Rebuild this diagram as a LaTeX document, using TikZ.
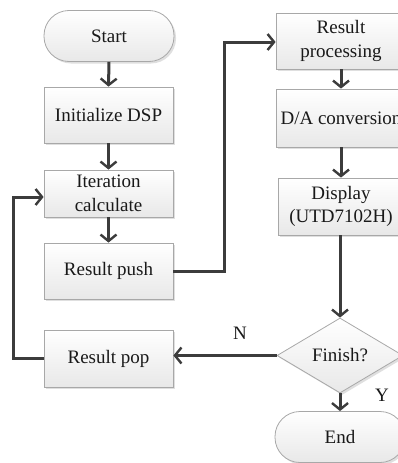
\documentclass[tikz,border=0pt]{standalone}
\usepackage{fontspec}
\setmainfont{Liberation Serif}
\usetikzlibrary{arrows.meta,shapes.geometric,shadows}
\definecolor{flowline}{HTML}{3C3C3C}
\definecolor{boxedge}{HTML}{A8A8A8}
\begin{document}
\begin{tikzpicture}[x=1pt,y=-1pt,
  every node/.style={font=\fontsize{19}{23.5}\selectfont, text=black!90},
  boxbase/.style={draw=boxedge, line width=0.8pt, top color=white, bottom color=black!9,
    drop shadow={shadow xshift=2pt, shadow yshift=-2pt, fill=black!25, opacity=0.5},
    inner sep=0pt, align=center},
  procbox/.style={boxbase, rectangle, minimum width=129pt},
  termbox/.style={boxbase, rectangle, rounded corners=25pt, minimum width=130pt, minimum height=51pt},
  decbox/.style={boxbase, diamond, minimum width=126pt, minimum height=75pt, aspect=1.68},
  flow/.style={draw=flowline, line width=3pt, -{Straight Barb[length=6.5pt,width=16pt,line width=2.4pt]}},
  lbl/.style={inner sep=0pt}
]
\useasboundingbox (0,0) rectangle (398,463);

% left column
\node[termbox] (start) at (109,36) {Start};
\node[procbox, minimum height=56pt] (init) at (108.5,115) {Initialize DSP};
\node[procbox, minimum height=47pt] (iter) at (108.5,193.5) {Iteration\\calculate};
\node[procbox, minimum height=56pt] (push) at (108.5,271) {Result push};
\node[procbox, minimum height=57pt] (pop) at (108.5,358.5) {Result pop};

% right column
\node[procbox, minimum width=130pt, minimum height=56pt] (proc) at (341,41) {Result\\processing};
\node[procbox, minimum width=130pt, minimum height=58pt] (da) at (341,118) {D/A conversion};
\node[procbox, minimum width=126pt, minimum height=57pt] (disp) at (341,206.5) {Display\\(UTD7102H)};
\node[decbox] (fin) at (340,355.5) {Finish?};
\node[termbox] (end) at (340,437) {End};

% routing points
\coordinate (pushout) at (224,271);
\coordinate (procin) at (224,42);
\coordinate (popout) at (13,358.5);
\coordinate (iterin) at (13,197);

% connectors
\draw[flow] (start.south) -- (init.north);
\draw[flow] (init.south) -- (iter.north);
\draw[flow] (iter.south) -- (push.north);
\draw[flow] (push.east) -- (pushout) -- (procin) -- (procin -| proc.west);
\draw[flow] (proc.south) -- (da.north);
\draw[flow] (da.south) -- (disp.north -| da.south);
\draw[flow] (disp.south -| fin.north) -- (fin.north);
\draw[flow] (fin.west) -- (fin.west -| pop.east);
\draw[flow] (fin.south) -- (end.north);
\draw[flow] (pop.west) -- (popout) -- (iterin) -- (iterin -| iter.west);

% branch labels
\node[lbl] (nlabel) at (240,333) {N};
\node[lbl] (ylabel) at (382,395) {Y};
\end{tikzpicture}
\end{document}
